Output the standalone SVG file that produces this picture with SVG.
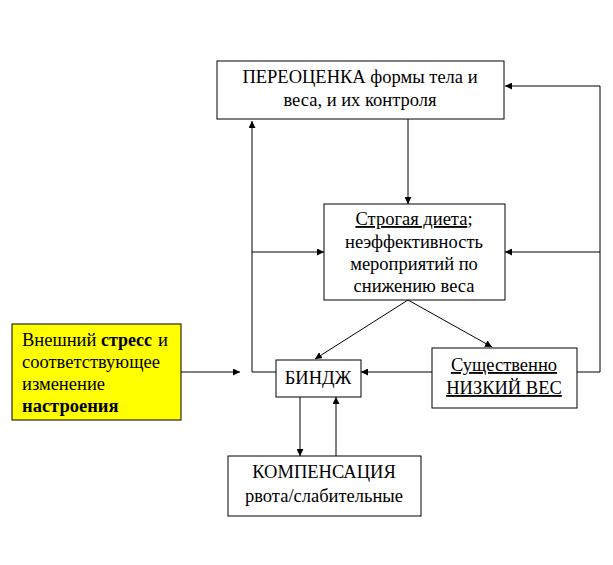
<svg xmlns="http://www.w3.org/2000/svg" width="613" height="565" viewBox="0 0 613 565">
<style>
.box{fill:#fff;stroke:#000;stroke-width:1}
.t{font-family:'Liberation Serif','Times New Roman',serif;font-size:18.5px;fill:#000}
.c{text-anchor:middle}
.ln{fill:none;stroke:#000;stroke-width:1}
.u{text-decoration:underline}
.b{font-weight:bold}
</style>
<defs>
<marker id="ah" viewBox="0 0 10 10" refX="10" refY="5" markerWidth="7" markerHeight="7" markerUnits="userSpaceOnUse" orient="auto">
<path d="M0,0 L10,5 L0,10 z" fill="#000"/>
</marker>
</defs>
<rect width="613" height="565" fill="#fff"/>
<g id="connectors">
<path class="ln" d="M408,119 V204" marker-end="url(#ah)"/>
<path class="ln" d="M276,372 H252 V121" marker-end="url(#ah)"/>
<path class="ln" d="M252,252 H324" marker-end="url(#ah)"/>
<path class="ln" d="M577,372 H600 V86 H505" marker-end="url(#ah)"/>
<path class="ln" d="M600,252 H505" marker-end="url(#ah)"/>
<path class="ln" d="M181,372 H240" marker-end="url(#ah)"/>
<path class="ln" d="M432,372 H361" marker-end="url(#ah)"/>
<path class="ln" d="M408,300 L315,359" marker-end="url(#ah)"/>
<path class="ln" d="M408,300 L492,347" marker-end="url(#ah)"/>
<path class="ln" d="M300,397 V456" marker-end="url(#ah)"/>
<path class="ln" d="M336,456 V397" marker-end="url(#ah)"/>
</g>
<g id="reassessment">
<rect class="box" x="217" y="61" width="287" height="58"/>
<text class="t c" x="360" y="83" font-size="19">ПЕРЕОЦЕНКА формы тела и</text>
<text class="t c" x="360" y="106">веса, и их контроля</text>
</g>
<g id="diet">
<rect class="box" x="324" y="204" width="181" height="96"/>
<text class="t c" x="414" y="225"><tspan class="u">Строгая диета</tspan>;</text>
<text class="t c" x="414" y="248">неэффективность</text>
<text class="t c" x="414" y="270">мероприятий по</text>
<text class="t c" x="414" y="292">снижению веса</text>
</g>
<g id="stress">
<rect x="12" y="324" width="169" height="96" fill="#ffff00" stroke="#000"/>
<text class="t" x="22" y="346">Внешний<tspan class="b" x="101" textLength="51" lengthAdjust="spacingAndGlyphs">стресс</tspan><tspan x="158">и</tspan></text>
<text class="t" x="22" y="368">соответствующее</text>
<text class="t" x="22" y="390">изменение</text>
<text class="t b" x="22" y="412">настроения</text>
</g>
<g id="binge">
<rect class="box" x="276" y="360" width="85" height="37"/>
<text class="t c" x="318" y="384">БИНДЖ</text>
</g>
<g id="lowweight">
<rect class="box" x="432" y="348" width="145" height="60"/>
<text class="t c u" x="504" y="371">Существенно</text>
<text class="t c u" x="504" y="394">НИЗКИЙ ВЕС</text>
</g>
<g id="compensation">
<rect class="box" x="228" y="456" width="193" height="60"/>
<text class="t c" x="324" y="478">КОМПЕНСАЦИЯ</text>
<text class="t c" x="324" y="502">рвота/слабительные</text>
</g>
</svg>
